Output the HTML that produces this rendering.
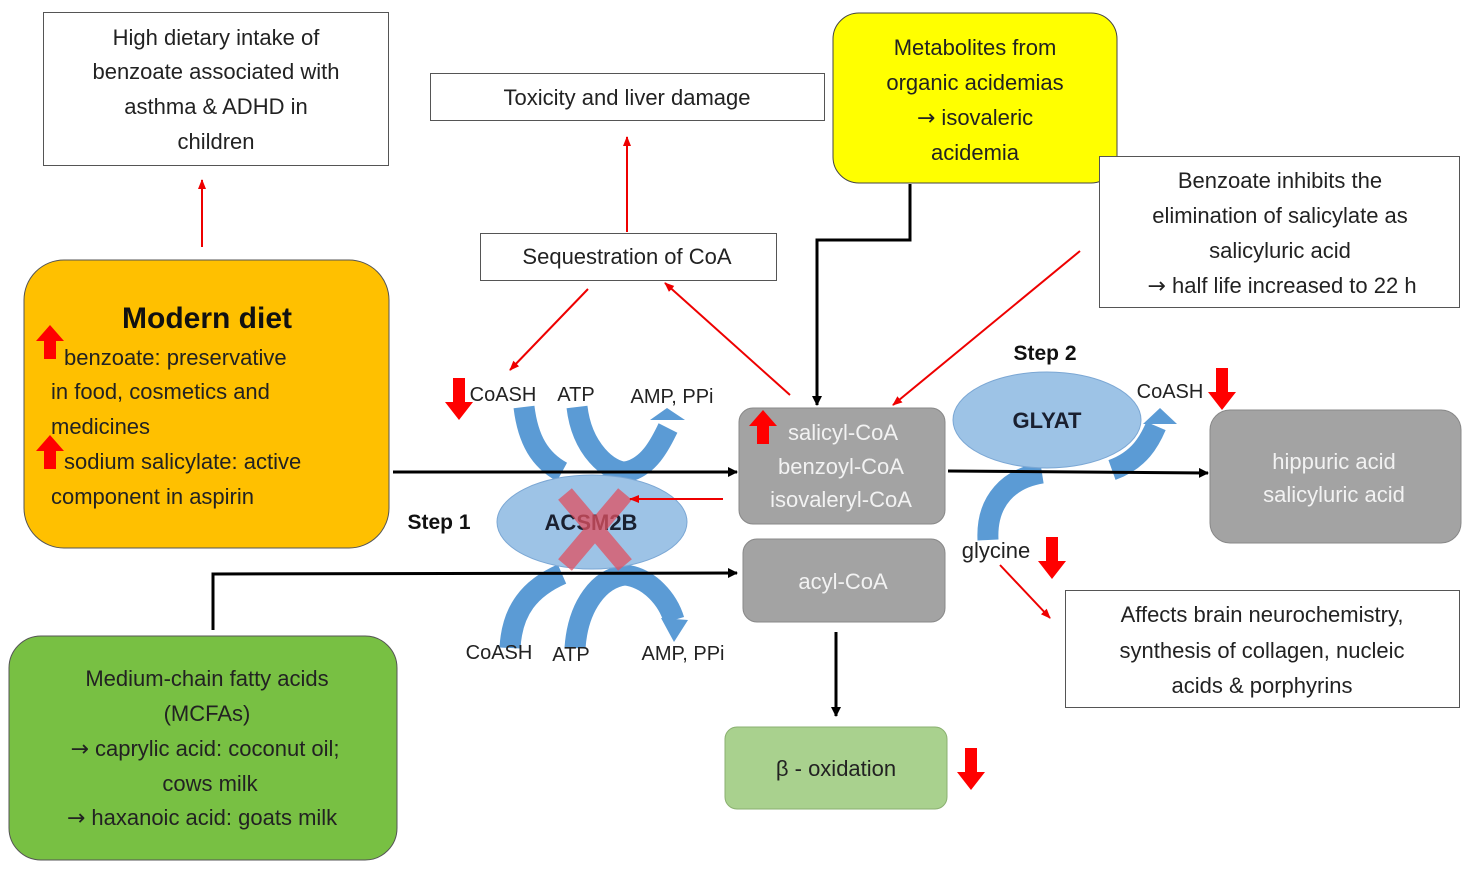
<!DOCTYPE html>
<html><head><meta charset="utf-8"><style>
html,body{margin:0;padding:0;background:#fff;}
svg{display:block;font-family:"Liberation Sans",sans-serif;}
.ar{font-family:"DejaVu Sans",sans-serif;}
</style></head><body>
<svg width="1470" height="872" viewBox="0 0 1470 872" xmlns="http://www.w3.org/2000/svg">
<defs>
<marker id="bk" markerWidth="10" markerHeight="10" refX="9" refY="5" orient="auto" markerUnits="userSpaceOnUse"><path d="M0,0 L10,5 L0,10 z" fill="#000"/></marker>
<marker id="rd" markerWidth="10" markerHeight="10" refX="9" refY="5" orient="auto" markerUnits="userSpaceOnUse"><path d="M0,1 L10,5 L0,9 z" fill="#e00"/></marker>
<g id="dn"><path d="M-6,0 h12 v24 h8 l-14,18 l-14,-18 h8 z" fill="#f00"/></g>
<g id="up"><path d="M-6,32 h12 v-18 h8 l-14,-16 l-14,16 h8 z" fill="#f00"/></g>
</defs>
<g font-size="22" fill="#222" text-anchor="middle">
<rect x="43.5" y="12.5" width="345" height="153" fill="#fff" stroke="#555"/>
<text x="216" y="45">High dietary intake of</text>
<text x="216" y="79">benzoate associated with</text>
<text x="216" y="114">asthma &amp; ADHD in</text>
<text x="216" y="149">children</text>
<rect x="430.5" y="73.5" width="394" height="47" fill="#fff" stroke="#555"/>
<text x="627" y="105">Toxicity and liver damage</text>
<rect x="833" y="13" width="284" height="170" rx="26" fill="#ffff00" stroke="#444"/>
<text x="975" y="55">Metabolites from</text>
<text x="975" y="90">organic acidemias</text>
<text x="975" y="125"><tspan class="ar">→</tspan> isovaleric</text>
<text x="975" y="160">acidemia</text>
<rect x="1099.5" y="156.5" width="360" height="151" fill="#fff" stroke="#555"/>
<text x="1280" y="188">Benzoate inhibits the</text>
<text x="1280" y="223">elimination of salicylate as</text>
<text x="1280" y="258">salicyluric acid</text>
<text x="1282" y="293"><tspan class="ar">→</tspan> half life increased to 22 h</text>
<rect x="480.5" y="233.5" width="296" height="47" fill="#fff" stroke="#555"/>
<text x="627" y="264">Sequestration of CoA</text>
<rect x="24" y="260" width="365" height="288" rx="40" fill="#ffc000" stroke="#555"/>
<text x="207" y="328" font-size="30" font-weight="bold" fill="#111">Modern diet</text>
<g text-anchor="start">
<text x="64" y="365">benzoate:  preservative</text>
<text x="51" y="399">in food, cosmetics and</text>
<text x="51" y="434">medicines</text>
<text x="64" y="469">sodium salicylate: active</text>
<text x="51" y="504">component in aspirin</text>
</g>
<use href="#up" x="50" y="327"/>
<use href="#up" x="50" y="437"/>
<rect x="9" y="636" width="388" height="224" rx="32" fill="#78c043" stroke="#555"/>
<text x="207" y="686">Medium-chain fatty acids</text>
<text x="207" y="721">(MCFAs)</text>
<text x="205" y="756"><tspan class="ar">→</tspan> caprylic acid: coconut oil;</text>
<text x="210" y="791">cows milk</text>
<text x="202" y="825"><tspan class="ar">→</tspan> haxanoic acid: goats milk</text>
<rect x="739" y="408" width="206" height="116" rx="14" fill="#a3a3a3" stroke="#888"/>
<g fill="#f2f2f2">
<text x="843" y="440">salicyl-CoA</text>
<text x="841" y="474">benzoyl-CoA</text>
<text x="841" y="507">isovaleryl-CoA</text>
</g>
<use href="#up" x="763" y="412"/>
<rect x="743" y="539" width="202" height="83" rx="14" fill="#a3a3a3" stroke="#888"/>
<text x="843" y="589" fill="#f2f2f2">acyl-CoA</text>
<rect x="1210" y="410" width="251" height="133" rx="20" fill="#a3a3a3" stroke="#888"/>
<text x="1334" y="469" fill="#f2f2f2">hippuric acid</text>
<text x="1334" y="502" fill="#f2f2f2">salicyluric acid</text>
<rect x="725" y="727" width="222" height="82" rx="12" fill="#a9d18e" stroke="#8ab070"/>
<text x="836" y="776">β - oxidation</text>
<use href="#dn" x="971" y="748"/>
<rect x="1065.5" y="590.5" width="394" height="117" fill="#fff" stroke="#555"/>
<text x="1262" y="622">Affects brain neurochemistry,</text>
<text x="1262" y="658">synthesis of collagen, nucleic</text>
<text x="1262" y="693">acids &amp; porphyrins</text>
</g>
<g fill="none" stroke="#5b9bd5" stroke-width="21">
<path d="M524,407 C528,440 540,460 562,472"/>
<path d="M577,407 C582,450 610,472 625,472 C650,468 662,440 668,428"/>
<path d="M510,648 C512,610 530,588 562,574"/>
<path d="M575,648 C578,605 600,578 625,575 C650,578 668,600 674,620"/>
<path d="M988,540 C986,500 1010,478 1042,473"/>
<path d="M1112,470 C1140,460 1150,440 1156,426"/>
</g>
<path d="M650,420 L667,408 L685,420 z" fill="#5b9bd5"/>
<path d="M661,618 L688,620 L674,642 z" fill="#5b9bd5"/>
<path d="M1143,424 L1160,408 L1177,424 z" fill="#5b9bd5"/>
<ellipse cx="592" cy="522" rx="95" ry="47" fill="#9dc3e6" stroke="#7ba7d4"/>
<ellipse cx="1047" cy="420" rx="94" ry="48" fill="#9dc3e6" stroke="#7ba7d4"/>
<text x="591" y="530" font-size="22" font-weight="bold" text-anchor="middle" fill="#1a2030">ACSM2B</text>
<path d="M565,494 L625,565 M625,494 L565,565" stroke="#e05060" stroke-opacity="0.75" stroke-width="18"/>
<text x="1047" y="428" font-size="22" font-weight="bold" text-anchor="middle" fill="#1a2030">GLYAT</text>
<g font-size="20" fill="#222" text-anchor="middle">
<text x="503" y="401">CoASH</text><text x="576" y="401">ATP</text><text x="672" y="403">AMP, PPi</text>
<text x="499" y="659">CoASH</text><text x="571" y="661">ATP</text><text x="683" y="660">AMP, PPi</text>
<text x="1170" y="398">CoASH</text>
<text x="996" y="558" font-size="22">glycine</text>
<text x="439" y="529" font-size="21" font-weight="bold" fill="#111">Step 1</text>
<text x="1045" y="360" font-size="21" font-weight="bold" fill="#111">Step 2</text>
</g>
<use href="#dn" x="459" y="378"/>
<use href="#dn" x="1222" y="368"/>
<use href="#dn" x="1052" y="537"/>
<g stroke="#000" stroke-width="3" fill="none">
<line x1="393" y1="472" x2="737" y2="472" marker-end="url(#bk)"/>
<polyline points="213,630 213,574 737,573" marker-end="url(#bk)"/>
<polyline points="910,184 910,240 817,240 817,405" marker-end="url(#bk)"/>
<line x1="948" y1="471" x2="1208" y2="473" marker-end="url(#bk)"/>
<line x1="836" y1="632" x2="836" y2="716" marker-end="url(#bk)"/>
</g>
<g stroke="#e00" stroke-width="2" fill="none">
<line x1="202" y1="247" x2="202" y2="180" marker-end="url(#rd)"/>
<line x1="627" y1="232" x2="627" y2="137" marker-end="url(#rd)"/>
<line x1="588" y1="289" x2="510" y2="370" marker-end="url(#rd)"/>
<line x1="790" y1="395" x2="665" y2="283" marker-end="url(#rd)"/>
<line x1="1080" y1="251" x2="893" y2="405" marker-end="url(#rd)"/>
<line x1="723" y1="499" x2="630" y2="499" marker-end="url(#rd)"/>
<line x1="1000" y1="565" x2="1050" y2="618" marker-end="url(#rd)"/>
</g>
</svg>
</body></html>
